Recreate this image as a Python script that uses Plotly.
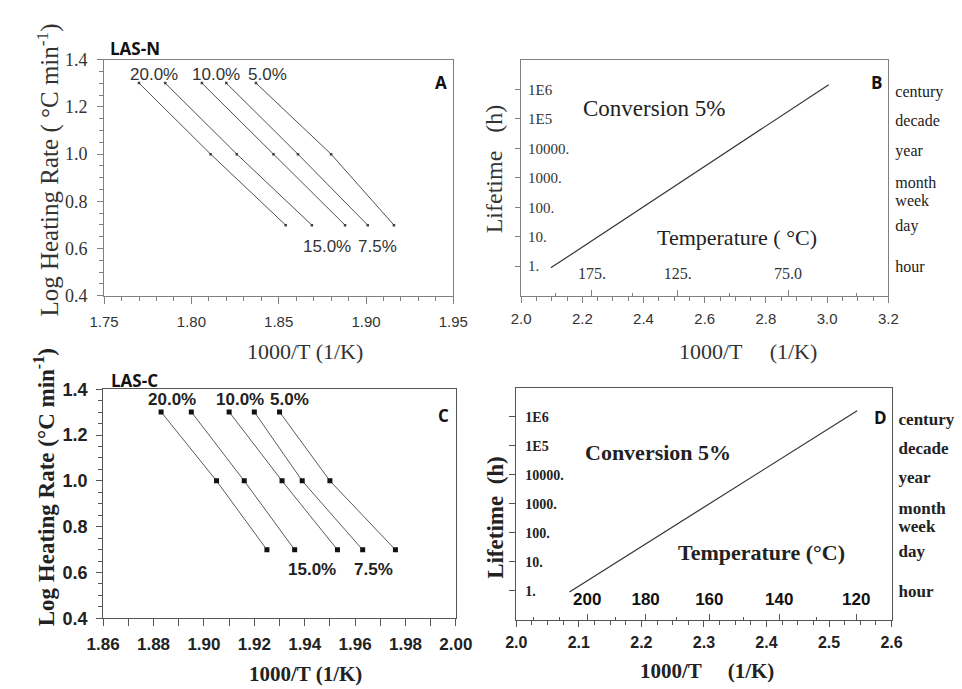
import plotly.graph_objects as go

W, H = 962, 689

# ---------------- data ----------------
log_rate = [1.301, 1.0, 0.699]  # log10 of heating rate 20, 10, 5 degC/min
conv_labels = ["20.0%", "15.0%", "10.0%", "7.5%", "5.0%"]

# LAS-N  (1000/T at each heating rate, per conversion)
lasn_20 = [1.770, 1.811, 1.854]
lasn_15 = [1.785, 1.826, 1.869]
lasn_10 = [1.806, 1.847, 1.888]
lasn_75 = [1.820, 1.861, 1.901]
lasn_5 = [1.837, 1.880, 1.916]

# LAS-C
lasc_20 = [1.883, 1.905, 1.925]
lasc_15 = [1.895, 1.916, 1.936]
lasc_10 = [1.910, 1.931, 1.953]
lasc_75 = [1.920, 1.939, 1.963]
lasc_5 = [1.930, 1.950, 1.976]

# Lifetime predictions (conversion 5%)
life_b_invT = [2.097, 3.005]
life_b_hours = [0.88, 1.46e6]
life_d_invT = [2.085, 2.545]
life_d_hours = [0.93, 1.64e6]

lifetime_ticks = [1, 10, 100, 1000, 10000, 1e5, 1e6]
lifetime_text = ["1.", "10.", "100.", "1000.", "10000.", "1E5", "1E6"]
unit_hours = [1, 24, 168, 730, 8760, 87600, 876000]
unit_names = ["hour", "day", "week", "month", "year", "decade", "century"]

temps_b_major = [175, 125, 75]
temps_b_major_text = ["175.", "125.", "75.0"]
temps_b_minor = [200, 150, 100, 50]
temps_d_major = [200, 180, 160, 140, 120]
temps_d_major_text = ["200", "180", "160", "140", "120"]
temps_d_minor = [220, 210, 190, 170, 150, 130]

xa_ticks = [1.75, 1.80, 1.85, 1.90, 1.95]
xb_ticks = [2.0, 2.2, 2.4, 2.6, 2.8, 3.0, 3.2]
xc_ticks = [1.86, 1.88, 1.90, 1.92, 1.94, 1.96, 1.98, 2.00]
xd_ticks = [2.0, 2.1, 2.2, 2.3, 2.4, 2.5, 2.6]

# ---------------- helpers ----------------
def fx(px):
    return px / W

def fy(py):
    return 1 - py / H

def inv_t(temps_c):
    return [1000 / (t + 273.15) for t in temps_c]

SERIF = "Liberation Serif"
SANS = "Liberation Sans"
fig = go.Figure()

# Panel A lines
for xs in [lasn_20, lasn_15, lasn_10, lasn_75, lasn_5]:
    fig.add_trace(go.Scatter(x=xs, y=log_rate, mode="lines+markers", xaxis="x", yaxis="y",
                             line=dict(color="#505050", width=1),
                             marker=dict(symbol="square", size=2.5, color="#404040"),
                             showlegend=False, hoverinfo="skip"))
# Panel C lines
for xs in [lasc_20, lasc_15, lasc_10, lasc_75, lasc_5]:
    fig.add_trace(go.Scatter(x=xs, y=log_rate, mode="lines+markers", xaxis="x3", yaxis="y3",
                             line=dict(color="#5a5a5a", width=1),
                             marker=dict(symbol="square", size=5, color="#111111"),
                             showlegend=False, hoverinfo="skip"))
# Panel B / D lifetime lines
fig.add_trace(go.Scatter(x=life_b_invT, y=life_b_hours, mode="lines", xaxis="x2", yaxis="y2",
                         line=dict(color="#333333", width=1.2), showlegend=False, hoverinfo="skip"))
fig.add_trace(go.Scatter(x=life_d_invT, y=life_d_hours, mode="lines", xaxis="x4", yaxis="y4",
                         line=dict(color="#333333", width=1.2), showlegend=False, hoverinfo="skip"))
# empty traces to register overlay axes
for xa, ya in [("x5", "y2"), ("x7", "y2"), ("x2", "y5"), ("x2", "y7"),
               ("x6", "y4"), ("x8", "y4"), ("x4", "y6"), ("x4", "y8")]:
    fig.add_trace(go.Scatter(x=[], y=[], xaxis=xa, yaxis=ya, showlegend=False, hoverinfo="skip"))

dA = dict(x=[fx(82), fx(444)], y=[fy(286), fy(43)])
dB = dict(x=[fx(514.3), fx(895)], y=[fy(286), fy(43.3)])
dC = dict(x=[fx(81), fx(446.7)], y=[fy(618.3), fy(382.3)])
dD = dict(x=[fx(509.3), fx(898.3)], y=[fy(620), fy(381)])

gA = "#808080"
gC = "#555555"
OV = "allow"

layout = dict(
    width=W, height=H, margin=dict(l=0, r=0, t=0, b=0),
    paper_bgcolor="white", plot_bgcolor="white", showlegend=False,
    # ---- Panel A ----
    xaxis=dict(domain=dA["x"], anchor="y", range=[1.75, 1.95],
               tickvals=xa_ticks, ticktext=["%.2f" % v for v in xa_ticks],
               ticks="outside", ticklen=7, tickcolor=gA, ticklabeloverflow=OV,
               minor=dict(dtick=0.01, tick0=1.75, ticks="outside", ticklen=4, tickcolor=gA),
               showline=True, linecolor=gA, mirror=True, showgrid=False, zeroline=False,
               tickfont=dict(family=SANS, size=15, color="#333"), ticklabelstandoff=5),
    yaxis=dict(domain=dA["y"], anchor="x", range=[0.4, 1.4], dtick=0.2, tick0=0.4,
               tickformat=".1f", ticks="outside", ticklen=6, tickcolor=gA, ticklabeloverflow=OV,
               minor=dict(dtick=0.05, ticks="outside", ticklen=4, tickcolor=gA),
               showline=True, linecolor=gA, mirror=True, showgrid=False, zeroline=False,
               tickfont=dict(family=SERIF, size=18, color="#333"), ticklabelstandoff=6),
    # ---- Panel B ----
    xaxis2=dict(domain=dB["x"], anchor="y2", range=[2.0, 3.2],
                tickvals=xb_ticks, ticktext=["%.1f" % v for v in xb_ticks],
                ticks="outside", ticklen=6, tickcolor=gA, ticklabeloverflow=OV,
                minor=dict(dtick=0.05, tick0=2.0, ticks="outside", ticklen=4, tickcolor=gA),
                showline=True, linecolor=gA, mirror=True, showgrid=False, zeroline=False,
                tickfont=dict(family=SANS, size=15, color="#333"), ticklabelstandoff=3),
    yaxis2=dict(domain=dB["y"], anchor="x2", type="log", range=[-1, 7],
                tickvals=lifetime_ticks, showticklabels=False,
                ticks="outside", ticklen=5, tickcolor=gA,
                showline=True, linecolor=gA, mirror=True, showgrid=False, zeroline=False),
    yaxis7=dict(overlaying="y2", anchor="x2", side="left", type="log", range=[-1, 7],
                tickvals=lifetime_ticks, ticktext=lifetime_text, ticks="",
                ticklabelposition="inside", ticklabelstandoff=4, ticklabeloverflow=OV,
                showline=False, showgrid=False, zeroline=False,
                tickfont=dict(family=SERIF, size=15, color="#333")),
    xaxis5=dict(overlaying="x2", anchor="y2", side="bottom", range=[2.0, 3.2],
                tickvals=inv_t(temps_b_major), ticktext=temps_b_major_text,
                ticks="inside", ticklen=6, tickcolor=gA, ticklabelposition="inside",
                ticklabelstandoff=8, ticklabeloverflow=OV,
                showline=False, showgrid=False, zeroline=False,
                tickfont=dict(family=SERIF, size=16, color="#333")),
    xaxis7=dict(overlaying="x2", anchor="y2", side="bottom", range=[2.0, 3.2],
                tickvals=inv_t(temps_b_minor), showticklabels=False,
                ticks="inside", ticklen=3, tickcolor=gA,
                showline=False, showgrid=False, zeroline=False),
    yaxis5=dict(overlaying="y2", anchor="x2", side="right", type="log", range=[-1, 7],
                tickvals=unit_hours, ticktext=unit_names, ticks="", ticklabelstandoff=6,
                ticklabeloverflow=OV,
                showline=False, showgrid=False, zeroline=False,
                tickfont=dict(family=SERIF, size=16, color="#222")),
    # ---- Panel C ----
    xaxis3=dict(domain=dC["x"], anchor="y3", range=[1.86, 2.00],
                tickvals=xc_ticks, ticktext=["%.2f" % v for v in xc_ticks],
                ticks="outside", ticklen=7, tickcolor=gC, ticklabeloverflow=OV,
                minor=dict(dtick=0.01, tick0=1.86, ticks="outside", ticklen=7, tickcolor=gC),
                showline=True, linecolor=gC, mirror=True, showgrid=False, zeroline=False,
                tickfont=dict(family=SANS, size=17, color="#222", weight="bold"), ticklabelstandoff=3),
    yaxis3=dict(domain=dC["y"], anchor="x3", range=[0.4, 1.4], dtick=0.2, tick0=0.4,
                tickformat=".1f", ticks="outside", ticklen=6, tickcolor=gC, ticklabeloverflow=OV,
                minor=dict(dtick=0.05, ticks="outside", ticklen=4, tickcolor=gC),
                showline=True, linecolor=gC, mirror=True, showgrid=False, zeroline=False,
                tickfont=dict(family=SANS, size=18, color="#222", weight="bold"), ticklabelstandoff=5),
    # ---- Panel D ----
    xaxis4=dict(domain=dD["x"], anchor="y4", range=[2.0, 2.6],
                tickvals=xd_ticks, ticktext=["%.1f" % v for v in xd_ticks],
                ticks="outside", ticklen=6, tickcolor=gC, ticklabeloverflow=OV,
                minor=dict(dtick=0.025, tick0=2.0, ticks="outside", ticklen=4, tickcolor=gC),
                showline=True, linecolor=gC, mirror=True, showgrid=False, zeroline=False,
                tickfont=dict(family=SANS, size=16, color="#222", weight="bold"), ticklabelstandoff=2),
    yaxis4=dict(domain=dD["y"], anchor="x4", type="log", range=[-1, 7],
                tickvals=lifetime_ticks, showticklabels=False,
                ticks="outside", ticklen=6, tickcolor=gC,
                showline=True, linecolor=gC, mirror=True, showgrid=False, zeroline=False),
    yaxis8=dict(overlaying="y4", anchor="x4", side="left", type="log", range=[-1, 7],
                tickvals=lifetime_ticks, ticktext=lifetime_text, ticks="",
                ticklabelposition="inside", ticklabelstandoff=6, ticklabeloverflow=OV,
                showline=False, showgrid=False, zeroline=False,
                tickfont=dict(family=SERIF, size=14, color="#222", weight="bold")),
    xaxis6=dict(overlaying="x4", anchor="y4", side="bottom", range=[2.0, 2.6],
                tickvals=inv_t(temps_d_major), ticktext=temps_d_major_text,
                ticks="inside", ticklen=6, tickcolor=gC, ticklabelposition="inside",
                ticklabelstandoff=6, ticklabeloverflow=OV,
                showline=False, showgrid=False, zeroline=False,
                tickfont=dict(family=SANS, size=17, color="#111", weight="bold")),
    xaxis8=dict(overlaying="x4", anchor="y4", side="bottom", range=[2.0, 2.6],
                tickvals=inv_t(temps_d_minor), showticklabels=False,
                ticks="inside", ticklen=3, tickcolor=gC,
                showline=False, showgrid=False, zeroline=False),
    yaxis6=dict(overlaying="y4", anchor="x4", side="right", type="log", range=[-1, 7],
                tickvals=unit_hours, ticktext=unit_names, ticks="", ticklabelstandoff=6,
                ticklabeloverflow=OV,
                showline=False, showgrid=False, zeroline=False,
                tickfont=dict(family=SERIF, size=17, color="#222", weight="bold")),
)
fig.update_layout(**layout)

ann = []

def txt(text, x, y, size, family, bold=False, color="#222", xanchor="center", angle=0, xref="paper", yref="paper"):
    ann.append(dict(text=text, x=x, y=y, xref=xref, yref=yref, showarrow=False,
                    xanchor=xanchor, yanchor="middle", textangle=angle,
                    font=dict(size=size, family=family, color=color, weight="bold" if bold else "normal")))

# Panel A texts
txt("LAS-N", fx(86), fy(31.5), 17, "Open Sans", True, "#111", xanchor="left")
txt("A", fx(431), fy(66), 17, "Open Sans", True, "#111")
for lab, x, y in [("20.0%", 1.7787, 1.337), ("10.0%", 1.814, 1.337), ("5.0%", 1.8433, 1.337),
                  ("15.0%", 1.8775, 0.610), ("7.5%", 1.9068, 0.610)]:
    txt(lab, x, y, 17, SANS, False, "#333", xref="x", yref="y")
txt("Log Heating Rate ( °C min<sup>-1</sup>)", fx(24), fy(157), 25, SERIF, False, "#333", angle=-90)
txt("1000/T (1/K)", fx(290), fy(343), 22, SERIF, False, "#333")

# Panel B texts
txt("B", fx(882.5), fy(66.5), 17, "Open Sans", True, "#111")
txt("Conversion 5%", fx(652), fy(93), 23, SERIF, False, "#222")
txt("Temperature ( °C)", fx(738), fy(226), 22, SERIF, False, "#222")
txt("Lifetime   (h)", fx(486), fy(155), 24, SERIF, False, "#333", angle=-90)
txt("1000/T     (1/K)", fx(749), fy(343), 22, SERIF, False, "#333")

# Panel C texts
txt("LAS-C", fx(87), fy(373), 17, "Open Sans", True, "#111", xanchor="left")
txt("C", fx(434), fy(409.5), 17, "Open Sans", True, "#111")
for lab, x, y in [("20.0%", 1.8872, 1.355), ("10.0%", 1.9144, 1.355), ("5.0%", 1.9339, 1.355),
                  ("15.0%", 1.9427, 0.613), ("7.5%", 1.9672, 0.613)]:
    txt(lab, x, y, 17, SANS, True, "#222", xref="x3", yref="y3")
txt("Log Heating Rate (°C min<sup>-1</sup>)", fx(21), fy(483), 23, SERIF, True, "#222", angle=-90)
txt("1000/T (1/K)", fx(291), fy(676), 21, SERIF, True, "#222")

# Panel D texts
txt("D", fx(886.5), fy(411.5), 17, "Open Sans", True, "#111")
txt("Conversion 5%", fx(656), fy(448), 22, SERIF, True, "#222")
txt("Temperature (°C)", fx(763), fy(550), 22, SERIF, True, "#222")
txt("Lifetime  (h)", fx(487), fy(514), 23, SERIF, True, "#222", angle=-90)
txt("1000/T     (1/K)", fx(707), fy(673), 21, SERIF, True, "#222")

fig.update_layout(annotations=ann)
fig.write_html("out.html")
